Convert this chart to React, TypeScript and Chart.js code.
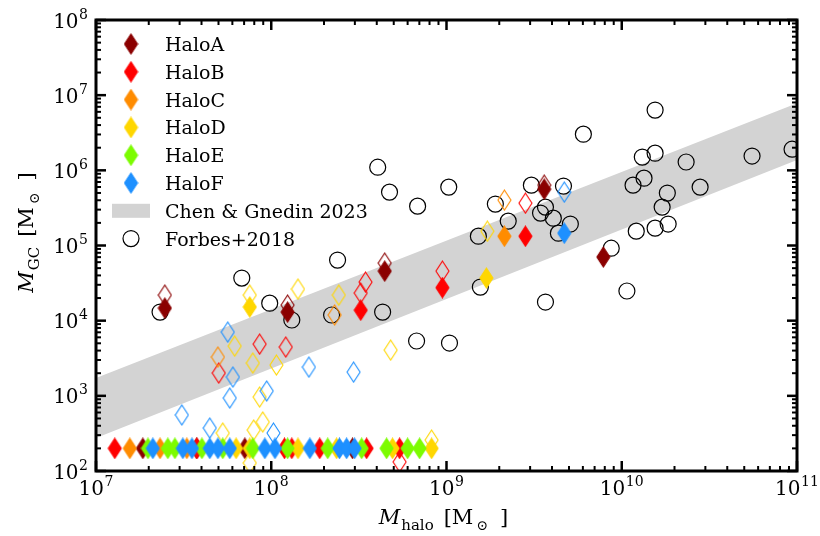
import React, { useEffect, useRef } from "react";
import { Chart, registerables } from "chart.js";

Chart.register(...registerables);

// ---------- data ----------
const haloNames = ["HaloA", "HaloB", "HaloC", "HaloD", "HaloE", "HaloF"];
const haloColors = ["#8B0000", "#FF0000", "#FF8C00", "#FFD700", "#7CFC00", "#1E90FF"];

const GC_FLOOR = 200; // haloes without GCs are shown at this floor value

// filled diamonds: [M_halo, M_GC]
const haloAFilled: [number, number][] = [[2.47e7, 1.47e4], [1.24e8, 1.3e4], [4.44e8, 4.57e4], [3.61e9, 5.62e5], [7.85e9, 7.02e4]];
const haloBFilled: [number, number][] = [[3.24e8, 1.38e4], [9.48e8, 2.75e4], [2.82e9, 1.33e5]];
const haloCFilled: [number, number][] = [[2.14e9, 1.33e5]];
const haloDFilled: [number, number][] = [[7.54e7, 1.52e4], [1.69e9, 3.69e4]];
const haloEFilled: [number, number][] = [];
const haloFFilled: [number, number][] = [[4.7e9, 1.46e5]];

// open diamonds: [M_halo, M_GC]
const haloAOpen: [number, number][] = [[2.47e7, 2.19e4], [1.24e8, 1.61e4], [4.44e8, 5.83e4], [3.61e9, 6.35e5]];
const haloBOpen: [number, number][] = [[5.02e7, 2.01e3], [8.59e7, 4.88e3], [1.21e8, 4.46e3], [3.24e8, 2.33e4], [3.45e8, 3.26e4], [9.48e8, 4.57e4], [2.82e9, 3.66e5], [5.4e8, 132]];
const haloCOpen: [number, number][] = [[4.96e7, 3.28e3], [2.3e8, 1.19e4], [2.14e9, 4.02e5]];
const haloDOpen: [number, number][] = [[7.54e7, 2.19e4], [1.42e8, 2.63e4], [2.43e8, 2.19e4], [6.19e7, 4.59e3], [7.85e7, 2.73e3], [1.07e8, 2.57e3], [8.59e7, 964], [8.95e7, 449], [7.94e7, 351], [5.29e7, 320], [4.8e8, 4.06e3], [1.71e9, 1.55e5], [8.22e8, 258], [7.54e7, 128]];
const haloEOpen: [number, number][] = [];
const haloFOpen: [number, number][] = [[5.65e7, 7.05e3], [6.04e7, 1.78e3], [5.8e7, 935], [9.42e7, 1.16e3], [1.64e8, 2.41e3], [2.95e8, 2.07e3], [3.09e7, 556], [4.46e7, 373], [1.03e8, 320], [4.7e9, 5.13e5]];

// haloes with no GCs (plotted at GC_FLOOR): M_halo
const haloAZero = [1.85e7, 3.76e7, 7.07e7, 2.91e8];
const haloBZero = [1.28e7, 3.76e7, 1.19e8, 1.31e8, 1.89e8, 3.5e8, 5.4e8];
const haloCZero = [1.56e7, 2.32e7, 3.3e7];
const haloDZero = [6.3e7, 7.54e7, 1.42e8, 2.36e8, 4.92e8, 8.22e8];
const haloEZero = [1.98e7, 2.57e7, 2.82e7, 4.02e7, 5.29e7, 7.85e7, 1.24e8, 2.1e8, 3.28e8, 4.55e8, 6.0e8, 7.02e8];
const haloFZero = [2.11e7, 3.13e7, 3.53e7, 4.46e7, 4.96e7, 5.8e7, 9.19e7, 1.05e8, 1.66e8, 2.45e8, 2.69e8, 2.99e8];

// Forbes+2018 observations: M_halo, M_GC
const forbesMhalo = [2.32e7, 6.79e7, 9.8e7, 1.31e8, 2.39e8, 2.21e8, 4.32e8, 6.75e8, 1.04e9, 1.56e9, 3.67e9, 1.07e10, 8.71e9, 4.05e8, 4.73e8, 6.84e8, 1.03e9, 1.9e9, 1.52e9, 2.25e9, 3.05e9, 3.67e9, 3.44e9, 4.07e9, 4.65e9, 4.35e9, 5.09e9, 6.04e9, 1.16e10, 1.31e10, 1.34e10, 1.55e10, 1.55e10, 1.21e10, 1.55e10, 1.7e10, 1.82e10, 1.84e10, 2.33e10, 2.8e10, 5.54e10, 9.37e10];
const forbesMgc = [1.3e4, 3.69e4, 1.71e4, 1.02e4, 6.4e4, 1.19e4, 1.3e4, 5.36e3, 5.04e3, 2.8e4, 1.77e4, 2.48e4, 9.2e4, 1.1e6, 5.13e5, 3.34e5, 5.98e5, 3.56e5, 1.33e5, 2.11e5, 6.35e5, 3.24e5, 2.7e5, 2.31e5, 6.17e5, 1.46e5, 1.93e5, 3.03e6, 6.35e5, 1.5e6, 7.87e5, 6.33e6, 1.69e6, 1.55e5, 1.7e5, 3.24e5, 4.98e5, 1.93e5, 1.29e6, 5.98e5, 1.55e6, 1.91e6];

// Chen & Gnedin 2023 band edges
const bandMhalo = [1e7, 1e11];
const bandUpperMgc = [1726, 7.83e6];
const bandLowerMgc = [275, 1.37e6];

// axes
const xDecades = [7, 8, 9, 10, 11];
const yDecades = [2, 3, 4, 5, 6, 7, 8];

const filledSets = [haloAFilled, haloBFilled, haloCFilled, haloDFilled, haloEFilled, haloFFilled];
const openSets = [haloAOpen, haloBOpen, haloCOpen, haloDOpen, haloEOpen, haloFOpen];
const zeroSets = [haloAZero, haloBZero, haloCZero, haloDZero, haloEZero, haloFZero];

const SERIF = "'DejaVu Serif', serif";

function makeDiamond(color: string, filled: boolean): HTMLCanvasElement {
  const w = 13, h = 20;
  const c = document.createElement("canvas");
  c.width = w + 2;
  c.height = h + 2;
  const ctx = c.getContext("2d")!;
  ctx.beginPath();
  ctx.moveTo(1 + w / 2, 1);
  ctx.lineTo(1 + w, 1 + h / 2);
  ctx.lineTo(1 + w / 2, 1 + h);
  ctx.lineTo(1, 1 + h / 2);
  ctx.closePath();
  ctx.strokeStyle = color;
  ctx.lineWidth = 1.1;
  if (filled) {
    ctx.fillStyle = color;
    ctx.fill();
  }
  ctx.stroke();
  return c;
}

type Seg = { text: string; font: string; dy?: number; pre?: number };

function drawRich(ctx: CanvasRenderingContext2D, segs: Seg[], x: number, y: number, align: "center" | "right" | "left") {
  ctx.textAlign = "left";
  ctx.textBaseline = "alphabetic";
  const widths = segs.map((s) => {
    ctx.font = s.font;
    return ctx.measureText(s.text).width + (s.pre || 0);
  });
  const total = widths.reduce((a, b) => a + b, 0);
  let cur = align === "center" ? x - total / 2 : align === "right" ? x - total : x;
  segs.forEach((s, i) => {
    ctx.font = s.font;
    ctx.fillText(s.text, cur + (s.pre || 0), y + (s.dy || 0));
    cur += widths[i];
  });
}

const powSegs = (e: number): Seg[] => [
  { text: "10", font: `20px ${SERIF}` },
  { text: String(e), font: `14px ${SERIF}`, dy: -9, pre: 0.5 },
];

function makeDecorPlugin(diamonds: HTMLCanvasElement[]) {
  return {
    id: "decor",
    afterDraw(chart: any) {
      const { ctx, chartArea: a, scales } = chart;
      const xs = scales.x, ys = scales.y;
      ctx.save();
      ctx.strokeStyle = "#000";
      ctx.fillStyle = "#000";
      ctx.lineCap = "butt";

      const line = (x1: number, y1: number, x2: number, y2: number, lw: number) => {
        ctx.lineWidth = lw;
        ctx.beginPath();
        ctx.moveTo(x1, y1);
        ctx.lineTo(x2, y2);
        ctx.stroke();
      };

      // x ticks
      for (let d = 7; d <= 11; d++) {
        for (let k = 1; k <= 9; k++) {
          if (d === 11 && k > 1) break;
          const px = xs.getPixelForValue(k * Math.pow(10, d));
          const major = k === 1;
          const len = major ? 10 : 5;
          const lw = major ? 2.5 : 2;
          line(px, a.bottom, px, a.bottom - len, lw);
          line(px, a.top, px, a.top + len, lw);
        }
      }
      // y ticks
      for (let d = 2; d <= 8; d++) {
        for (let k = 1; k <= 9; k++) {
          if (d === 8 && k > 1) break;
          const py = ys.getPixelForValue(k * Math.pow(10, d));
          const major = k === 1;
          const len = major ? 10 : 5;
          const lw = major ? 2.5 : 2;
          line(a.left, py, a.left + len, py, lw);
          line(a.right, py, a.right - len, py, lw);
        }
      }
      // frame
      ctx.lineWidth = 3;
      ctx.strokeRect(a.left, a.top, a.right - a.left, a.bottom - a.top);

      // tick labels
      xDecades.forEach((e) => {
        const px = xs.getPixelForValue(Math.pow(10, e));
        drawRich(ctx, powSegs(e), px, a.bottom + 24, "center");
      });
      yDecades.forEach((e) => {
        const py = ys.getPixelForValue(Math.pow(10, e));
        drawRich(ctx, powSegs(e), a.left - 8, py + 7.5, "right");
      });

      // axis titles
      const titleSegs = (sub: string): Seg[] => [
        { text: "M", font: `italic 21px ${SERIF}` },
        { text: sub, font: `15px ${SERIF}`, dy: 6, pre: 1 },
        { text: "[M", font: `21px ${SERIF}`, pre: 10 },
        { text: "\u2299", font: `14px ${SERIF}`, dy: 6, pre: 3 },
        { text: "]", font: `21px ${SERIF}`, pre: 12 },
      ];
      drawRich(ctx, titleSegs("halo"), (a.left + a.right) / 2 - 3, a.bottom + 53, "center");
      ctx.save();
      ctx.translate(33, (a.top + a.bottom) / 2 - 13);
      ctx.rotate(-Math.PI / 2);
      drawRich(ctx, titleSegs("GC"), 0, 0, "center");
      ctx.restore();

      // legend
      const mx = a.left + 35;
      const tx = a.left + 69;
      const y0 = a.top + 24;
      const dy = 27.8;
      ctx.font = `19px ${SERIF}`;
      ctx.textAlign = "left";
      ctx.textBaseline = "alphabetic";
      haloNames.forEach((n, i) => {
        const cy = y0 + i * dy;
        const img = diamonds[i];
        ctx.drawImage(img, mx - img.width / 2, cy - img.height / 2);
        ctx.fillStyle = "#000";
        ctx.fillText(n, tx, cy + 7);
      });
      let cy = y0 + 6 * dy;
      ctx.fillStyle = "#D3D3D3";
      ctx.fillRect(mx - 19, cy - 7, 38, 14);
      ctx.fillStyle = "#000";
      ctx.fillText("Chen & Gnedin 2023", tx, cy + 7);
      cy = y0 + 7 * dy;
      ctx.lineWidth = 1.2;
      ctx.strokeStyle = "#000";
      ctx.beginPath();
      ctx.arc(mx, cy, 8, 0, Math.PI * 2);
      ctx.stroke();
      ctx.fillText("Forbes+2018", tx, cy + 7);

      ctx.restore();
    },
  };
}

export default function App() {
  const ref = useRef<HTMLCanvasElement | null>(null);

  useEffect(() => {
    document.body.style.margin = "0";
    const canvas = ref.current!;
    const filledImgs = haloColors.map((c) => makeDiamond(c, true));
    const openImgs = haloColors.map((c) => makeDiamond(c, false));

    const datasets: any[] = [];
    datasets.push({
      type: "line",
      label: "Chen & Gnedin 2023",
      data: bandMhalo.map((m, i) => ({ x: m, y: bandUpperMgc[i] })),
      borderColor: "rgba(0,0,0,0)",
      borderWidth: 0,
      pointRadius: 0,
      backgroundColor: "#D3D3D3",
      fill: "+1",
      order: 100,
    });
    datasets.push({
      type: "line",
      label: "band lower",
      data: bandMhalo.map((m, i) => ({ x: m, y: bandLowerMgc[i] })),
      borderColor: "rgba(0,0,0,0)",
      borderWidth: 0,
      pointRadius: 0,
      fill: false,
      order: 101,
    });
    datasets.push({
      type: "scatter",
      label: "Forbes+2018",
      data: forbesMhalo.map((m, i) => ({ x: m, y: forbesMgc[i] })),
      pointStyle: "circle",
      pointRadius: 8,
      borderWidth: 1.2,
      borderColor: "#000",
      backgroundColor: "rgba(0,0,0,0)",
      order: 50,
    });
    haloNames.forEach((n, i) => {
      datasets.push({
        type: "scatter",
        label: n + " open",
        data: openSets[i].map(([m, g]) => ({ x: m, y: g })),
        pointStyle: openImgs[i],
        order: 40 - i * 2,
      });
      datasets.push({
        type: "scatter",
        label: n,
        data: [
          ...filledSets[i].map(([m, g]) => ({ x: m, y: g })),
          ...zeroSets[i].map((m) => ({ x: m, y: GC_FLOOR })),
        ],
        pointStyle: filledImgs[i],
        order: 39 - i * 2,
      });
    });

    const chart: any = new Chart(canvas, {
      type: "scatter",
      data: { datasets },
      options: {
        animation: false,
        responsive: true,
        maintainAspectRatio: false,
        layout: { padding: { left: 96, right: 23, top: 20, bottom: 65 } },
        plugins: { legend: { display: false }, tooltip: { enabled: false } },
        scales: {
          x: {
            type: "logarithmic",
            min: 1e7,
            max: 1e11,
            ticks: { display: false },
            grid: { display: false, drawTicks: false },
            border: { display: false },
          },
          y: {
            type: "logarithmic",
            min: 1e2,
            max: 1e8,
            ticks: { display: false },
            grid: { display: false, drawTicks: false },
            border: { display: false },
          },
        },
      },
      plugins: [makeDecorPlugin(filledImgs) as any],
    });

    return () => chart.destroy();
  }, []);

  return (
    <div style={{ width: 820, height: 536, position: "relative" }}>
      <canvas ref={ref} />
    </div>
  );
}
